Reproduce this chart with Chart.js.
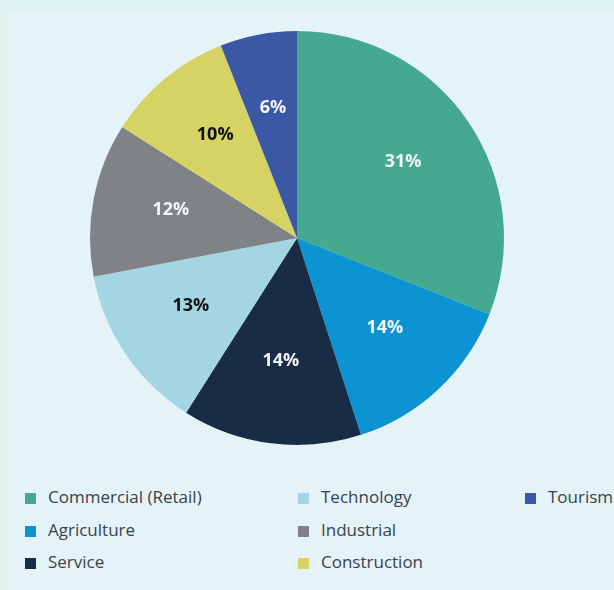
<!DOCTYPE html>
<html>
<head>
<meta charset="utf-8">
<script src="https://cdn.jsdelivr.net/npm/chart.js@4/dist/chart.umd.min.js"></script>
<style>
  html, body { margin: 0; padding: 0; }
  body { width: 614px; height: 590px; background: #dff2f0; position: relative; overflow: hidden; font-family: "Open Sans", sans-serif; }
  .panel { position: absolute; left: 7px; top: 13px; right: 0; bottom: 0; background: #e4f3f8; }
  #wrap { position: absolute; left: 0; top: 0; width: 614px; height: 470px; }
  .legend { position: absolute; left: 0; top: 485px; width: 614px; }
  .item { position: absolute; font-size: 17px; color: #3b4148; white-space: nowrap; line-height: 24px; }
  .item span { display: inline-block; width: 11px; height: 11px; margin-right: 12px; vertical-align: -1px; }
</style>
</head>
<body>
<div class="panel"></div>
<div id="wrap"><canvas id="chart"></canvas></div>
<div class="legend" id="legend"></div>
<script>
var sectors = ['Commercial (Retail)', 'Agriculture', 'Service', 'Technology', 'Industrial', 'Construction', 'Tourism'];
var shares = [31, 14, 14, 13, 12, 10, 6];
var colors = ['#45a98f', '#0b93d2', '#182c45', '#a4d5e2', '#808386', '#d6d264', '#3a58a3'];
var labelColors = ['#f2f4f5', '#f2f4f5', '#f2f4f5', '#111111', '#f2f4f5', '#111111', '#f2f4f5'];

// percent labels drawn inside each slice
var sliceLabels = {
  id: 'sliceLabels',
  afterDatasetsDraw: function(chart) {
    var ctx = chart.ctx;
    var meta = chart.getDatasetMeta(0);
    ctx.save();
    ctx.font = 'bold 18px "Open Sans", sans-serif';
    ctx.textAlign = 'center';
    ctx.textBaseline = 'middle';
    meta.data.forEach(function(arc, i) {
      var p = arc.getProps(['x', 'y', 'startAngle', 'endAngle', 'outerRadius'], true);
      var mid = (p.startAngle + p.endAngle) / 2;
      var r = p.outerRadius * 0.62;
      ctx.fillStyle = labelColors[i];
      ctx.fillText(shares[i] + '%', p.x + Math.cos(mid) * r, p.y + Math.sin(mid) * r - 4);
    });
    ctx.restore();
  }
};

var canvas = document.getElementById('chart');
canvas.width = 614;
canvas.height = 470;
new Chart(canvas, {
  type: 'pie',
  data: {
    labels: sectors,
    datasets: [{
      data: shares,
      backgroundColor: colors,
      borderWidth: 0
    }]
  },
  options: {
    responsive: false,
    animation: false,
    layout: { padding: { top: 31, bottom: 25, left: 90, right: 110 } },
    plugins: {
      legend: { display: false },
      tooltip: { enabled: false }
    }
  },
  plugins: [sliceLabels]
});

// legend laid out in columns of three rows
var legend = document.getElementById('legend');
var colX = [25, 298, 525];
var rowY = [0, 33, 65];
sectors.forEach(function(name, i) {
  var item = document.createElement('div');
  item.className = 'item';
  item.style.left = colX[Math.floor(i / 3)] + 'px';
  item.style.top = rowY[i % 3] + 'px';
  var box = document.createElement('span');
  box.style.background = colors[i];
  item.appendChild(box);
  item.appendChild(document.createTextNode(name));
  legend.appendChild(item);
});
</script>
</body>
</html>
